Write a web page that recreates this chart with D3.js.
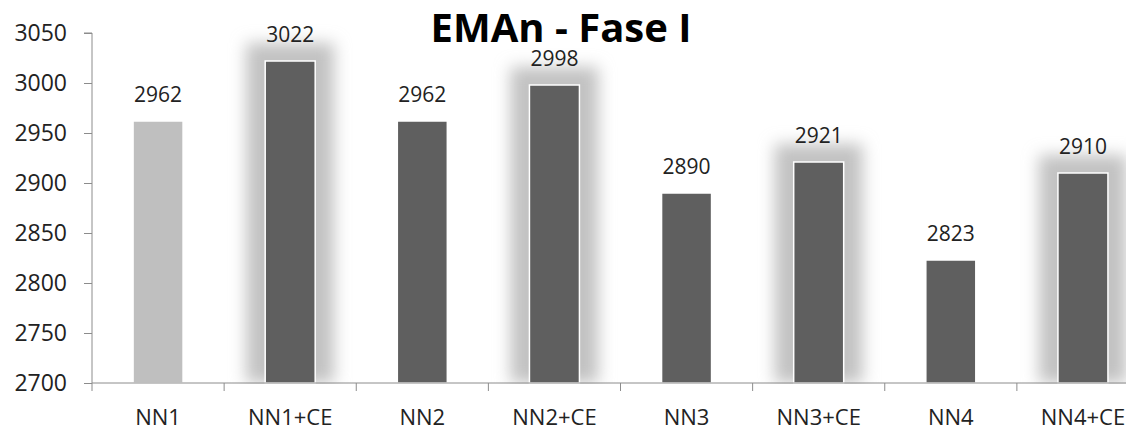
<!DOCTYPE html>
<html><head><meta charset="utf-8">
<script src="https://cdn.jsdelivr.net/npm/d3@7"></script>
<style>body{margin:0;background:#fff;}svg{display:block;}</style>
</head><body>
<svg id="c" width="1126" height="430"></svg>
<script>
const categories = ["NN1","NN1+CE","NN2","NN2+CE","NN3","NN3+CE","NN4","NN4+CE"];
const values = [2962,3022,2962,2998,2890,2921,2823,2910];
const highlighted = [false,true,false,true,false,true,false,true];
const barColors = ["#bfbfbf","#5f5f5f","#5f5f5f","#5f5f5f","#5f5f5f","#5f5f5f","#5f5f5f","#5f5f5f"];
const yTicks = [2700,2750,2800,2850,2900,2950,3000,3050];
const title = "EMAn - Fase I";

(function(){
const svg = d3.select("#c");
const mLeft = 92, mTop = 33, mBottom = 383, mRight = 1149;
const font = "'Open Sans', sans-serif";

const x = d3.scaleBand().domain(categories).range([mLeft, mRight]).paddingInner(0).paddingOuter(0);
const y = d3.scaleLinear().domain([2700, 3050]).range([mBottom, mTop]);

const defs = svg.append("defs");
defs.append("filter").attr("id","glow").attr("x","-100%").attr("y","-100%").attr("width","300%").attr("height","300%")
  .append("feGaussianBlur").attr("stdDeviation", 8);

const bw = 50;
svg.append("g").selectAll("rect").data(categories.map((c,i)=>({c,v:values[i],h:highlighted[i]})).filter(d=>d.h))
  .join("rect")
  .attr("x", d => x(d.c) + x.bandwidth()/2 - bw/2 - 19)
  .attr("y", d => y(d.v) - 18)
  .attr("width", bw + 38)
  .attr("height", d => mBottom - y(d.v) + 18)
  .attr("fill", "#c2c2c2")
  .attr("filter", "url(#glow)");

svg.append("rect").attr("x", 0).attr("y", mBottom + 1).attr("width", 1126).attr("height", 60).attr("fill", "#fff");

svg.append("g").selectAll("rect").data(categories)
  .join("rect")
  .attr("x", d => x(d) + x.bandwidth()/2 - bw/2)
  .attr("y", (d,i) => y(values[i]))
  .attr("width", bw)
  .attr("height", (d,i) => mBottom - y(values[i]))
  .attr("fill", (d,i) => barColors[i])
  .attr("stroke", "#fff")
  .attr("stroke-width", 1.5);

const yAxis = d3.axisLeft(y).tickValues(yTicks).tickSize(8).tickPadding(17).tickFormat(d3.format("d"));
const gy = svg.append("g").attr("transform", `translate(${mLeft},0)`).call(yAxis);
gy.select(".domain").attr("stroke", "#8c8c8c").attr("d", `M-8,${mTop}H0V${mBottom}`);
gy.selectAll(".tick line").attr("stroke", "#8c8c8c");
gy.selectAll(".tick text").attr("font-family", font).attr("font-size", 23).attr("fill", "#222");

const gx = svg.append("g").attr("transform", `translate(0,${mBottom})`);
gx.append("line").attr("x1", mLeft).attr("x2", mRight).attr("stroke", "#8c8c8c");
gx.selectAll("line.t").data(categories).join("line").attr("class","t")
  .attr("x1", d => x(d)).attr("x2", d => x(d)).attr("y1", 0).attr("y2", 8).attr("stroke", "#8c8c8c");
gx.selectAll("text").data(categories).join("text")
  .attr("x", d => x(d) + x.bandwidth()/2).attr("y", 42)
  .attr("text-anchor", "middle").attr("font-family", font).attr("font-size", 22).attr("fill", "#222")
  .text(d => d);

svg.append("g").selectAll("text").data(categories).join("text")
  .attr("x", d => x(d) + x.bandwidth()/2)
  .attr("y", (d,i) => y(values[i]) - 19)
  .attr("text-anchor", "middle").attr("font-family", font).attr("font-size", 21).attr("fill", "#222")
  .text((d,i) => values[i]);

svg.append("text").attr("x", 561).attr("y", 42).attr("text-anchor", "middle")
  .attr("font-family", font).attr("font-weight", "bold").attr("font-size", 40).attr("fill", "#000")
  .text(title);
})();
</script>
</body></html>
